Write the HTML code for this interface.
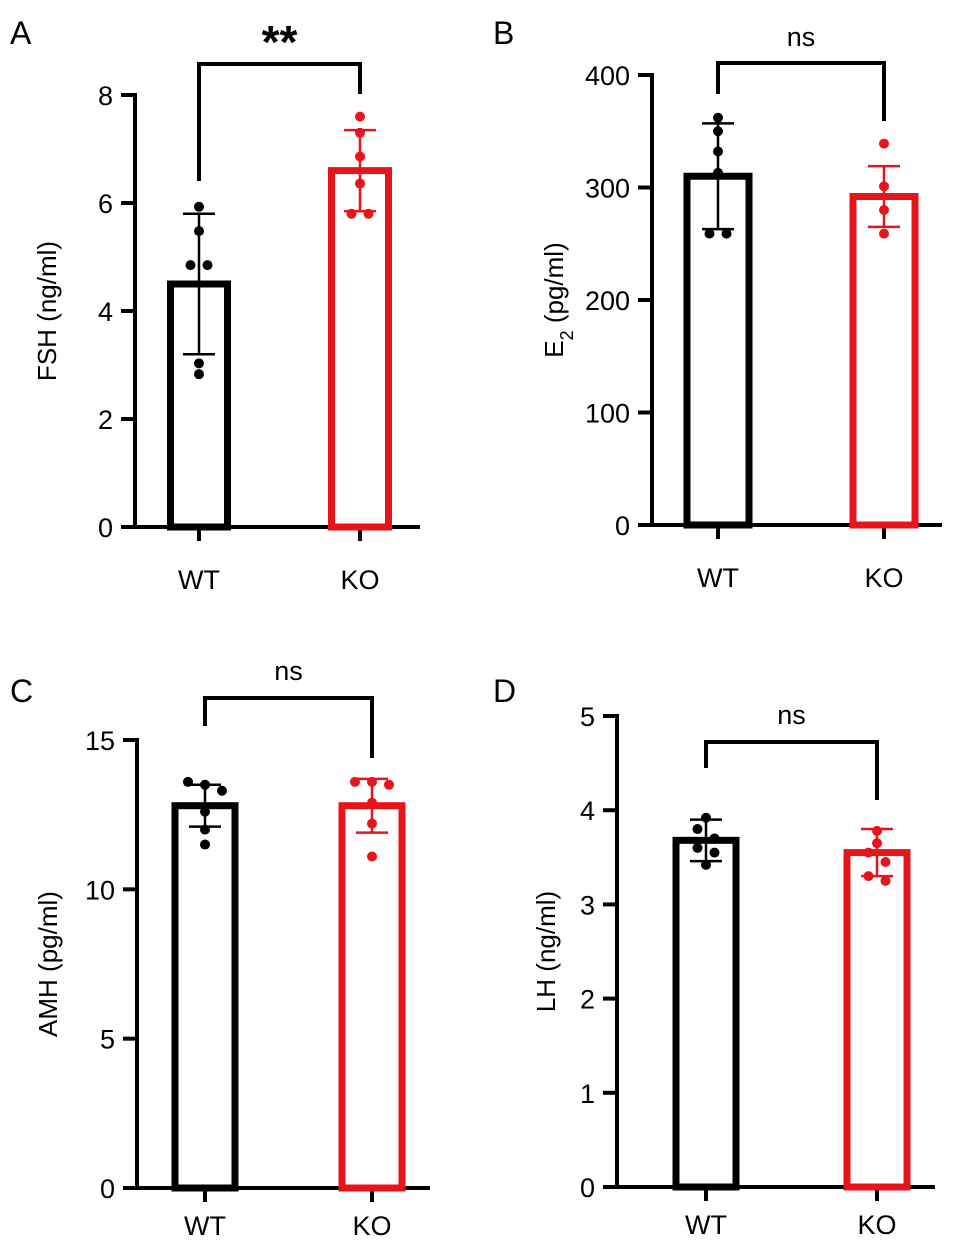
<!DOCTYPE html>
<html><head><meta charset="utf-8"><style>
html,body{margin:0;padding:0;background:#fff;}
svg{display:block;font-family:"Liberation Sans",Arial,sans-serif;}
</style></head><body>
<svg id="fig" width="969" height="1254" viewBox="0 0 969 1254"></svg>
<script>
const groups = ["WT","KO"];
const fshMeans = [4.5, 6.6];
const fshSD = [1.3, 0.75];
const fshPts = [[5.93,5.48,4.85,4.85,3.03,2.83],[7.6,7.3,6.86,6.36,5.8,5.8]];
const e2Means = [310, 292];
const e2SD = [47, 27];
const e2Pts = [[362,350,332,313,259,259],[339,301,280,259]];
const amhMeans = [12.8, 12.8];
const amhSD = [0.7, 0.9];
const amhPts = [[13.6,13.5,13.3,12.6,12.0,11.5],[13.6,13.6,13.5,12.9,12.2,11.1]];
const lhMeans = [3.68, 3.55];
const lhSD = [0.22, 0.25];
const lhPts = [[3.92,3.8,3.7,3.6,3.55,3.42],[3.78,3.65,3.55,3.45,3.3,3.25]];
const fshTicks = [0,2,4,6,8];
const e2Ticks = [0,100,200,300,400];
const amhTicks = [0,5,10,15];
const lhTicks = [0,1,2,3,4,5];

const NS="http://www.w3.org/2000/svg";
const svg=document.getElementById('fig');
function mk(tag,attrs,parent){const e=document.createElementNS(NS,tag);for(const k in attrs)e.setAttribute(k,attrs[k]);(parent||svg).appendChild(e);return e;}

function panel(o){
  const g=mk('g',{});
  
  
  const y=v=>o.y0-(v-o.ticks[0])/(o.ticks[o.ticks.length-1]-o.ticks[0])*(o.y0-o.yTop);
  const lt=mk('text',{x:o.lx,y:o.ly,'font-size':32},g);lt.textContent=o.letter;
  
  
  const ax=mk('line',{x1:o.ax,y1:y(o.ticks[o.ticks.length-1])-2,x2:o.ax,y2:o.y0+2,stroke:'#000','stroke-width':4},g);
  
  
  const xa=mk('line',{x1:o.ax-2,y1:o.y0,x2:o.xEnd,y2:o.y0,stroke:'#000','stroke-width':4},g);
  
  
  o.ticks.forEach(t=>{
    mk('line',{x1:o.ax-14,y1:y(t),x2:o.ax,y2:y(t),stroke:'#000','stroke-width':4},g);
    const tl=mk('text',{x:o.ax-22,y:y(t)+10,'font-size':27,'text-anchor':'end'},g);tl.textContent=t;
    
    
  });
  const yt=mk('text',{transform:`translate(${o.titleX},${(o.y0+y(o.ticks[o.ticks.length-1]))/2}) rotate(-90)`,'font-size':26,'text-anchor':'middle'},g);
  yt.innerHTML=o.title;
  
  
  const cols=['#000','#e8141c'];
  groups.forEach((gr,i)=>{
    const cx=o.cx[i],c=cols[i],hw=o.bw/2;
    mk('line',{x1:cx,y1:o.y0,x2:cx,y2:o.y0+14,stroke:'#000','stroke-width':4},g);
    const xl=mk('text',{x:cx,y:o.y0+o.xlOff,'font-size':27,'text-anchor':'middle'},g);xl.textContent=gr;
    
    
    const b=mk('rect',{x:cx-hw,y:y(o.means[i]),width:o.bw,height:o.y0-y(o.means[i]),fill:'none',stroke:c,'stroke-width':7},g);
    
    
    const hi=y(o.means[i]+o.sd[i]),lo=y(o.means[i]-o.sd[i]);
    mk('line',{x1:cx,y1:hi,x2:cx,y2:lo,stroke:c,'stroke-width':2.5},g);
    mk('line',{x1:cx-16,y1:hi,x2:cx+16,y2:hi,stroke:c,'stroke-width':2.5},g);
    mk('line',{x1:cx-16,y1:lo,x2:cx+16,y2:lo,stroke:c,'stroke-width':2.5},g);
    const pts=o.pts[i];
    const tol=0.02*o.ticks[o.ticks.length-1];
    pts.forEach((v,j)=>{
      let dx=0;
      const same=pts.filter(w=>Math.abs(w-v)<tol).length;
      if(same>1){const k=pts.slice(0,j).filter(w=>Math.abs(w-v)<tol).length;dx=(k-(same-1)/2)*17;}
      const p=mk('circle',{cx:cx+dx,cy:y(v),r:5,fill:c},g);
      
      
    });
  });
  const br=mk('polyline',{points:`${o.cx[0]},${o.bL} ${o.cx[0]},${o.bY} ${o.cx[1]},${o.bY} ${o.cx[1]},${o.bR}`,fill:'none',stroke:'#000','stroke-width':4},g);
  
  
  const big=o.sig=='**';
  const st=mk('text',{x:(o.cx[0]+o.cx[1])/2,y:o.sY,'font-size':big?46:27,'font-weight':big?'bold':'normal','text-anchor':'middle'},g);
  st.textContent=o.sig;
  
  
}
panel({name:'panel-a-fsh',letter:'A',lx:10,ly:44,ax:135,y0:527,yTop:95,xEnd:420,ticks:fshTicks,means:fshMeans,sd:fshSD,pts:fshPts,cx:[199,360],bw:57,title:'FSH (ng/ml)',titleX:56,bY:64,bL:181,bR:94,sig:'**',sY:58,xlOff:62});
panel({name:'panel-b-e2',letter:'B',lx:493,ly:44,ax:652,y0:525,yTop:75,xEnd:942,ticks:e2Ticks,means:e2Means,sd:e2SD,pts:e2Pts,cx:[718,884],bw:62,title:'E<tspan baseline-shift="sub" font-size="18">2</tspan> (pg/ml)',titleX:563,bY:63,bL:94,bR:121,sig:'ns',sY:46,xlOff:62});
panel({name:'panel-c-amh',letter:'C',lx:10,ly:702,ax:137,y0:1188,yTop:740,xEnd:430,ticks:amhTicks,means:amhMeans,sd:amhSD,pts:amhPts,cx:[205,372],bw:60,title:'AMH (pg/ml)',titleX:57,bY:698,bL:726,bR:758,sig:'ns',sY:680,xlOff:47});
panel({name:'panel-d-lh',letter:'D',lx:493,ly:702,ax:617,y0:1187,yTop:716,xEnd:935,ticks:lhTicks,means:lhMeans,sd:lhSD,pts:lhPts,cx:[706,877],bw:60,title:'LH (ng/ml)',titleX:555,bY:742,bL:768,bR:800,sig:'ns',sY:724,xlOff:47});
</script>
</body></html>
